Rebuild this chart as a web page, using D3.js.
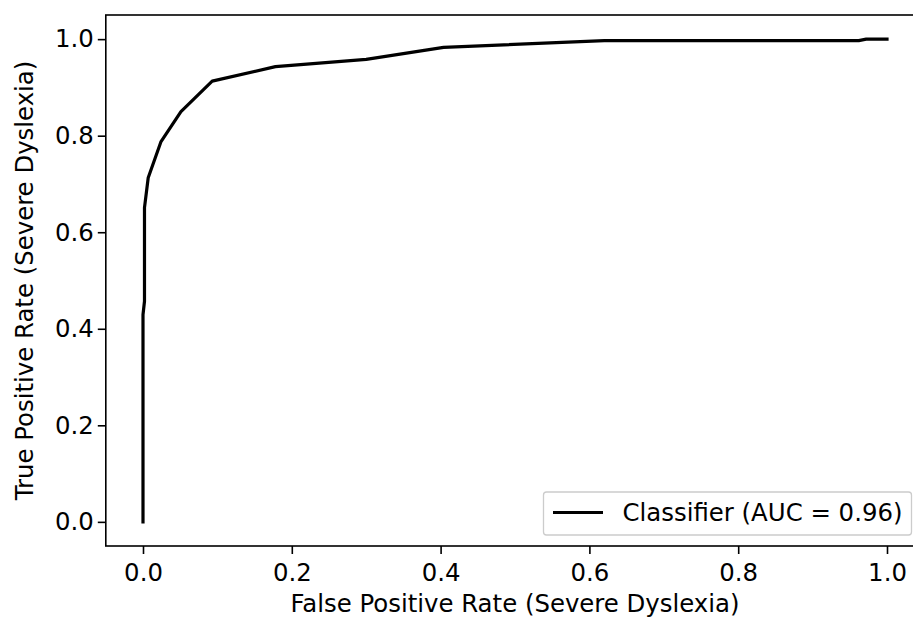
<!DOCTYPE html>
<html>
<head>
<meta charset="utf-8">
<script src="https://cdn.jsdelivr.net/npm/d3@7"></script>
<style>
  html, body { margin: 0; padding: 0; background: #fff; }
  svg { display: block; }
  text { font-family: "DejaVu Sans", sans-serif; fill: #000; }
</style>
</head>
<body>
<svg id="chart" width="913" height="618"></svg>
<script>
const fpr = [0, 0, 0.002, 0.002, 0.007, 0.024, 0.051, 0.093, 0.178, 0.30, 0.404, 0.62, 0.962, 0.972, 1.0];
const tpr = [0, 0.429, 0.457, 0.651, 0.713, 0.787, 0.850, 0.913, 0.943, 0.958, 0.983, 0.997, 0.997, 1.0, 1.0];
const xTicks = [0.0, 0.2, 0.4, 0.6, 0.8, 1.0];
const yTicks = [0.0, 0.2, 0.4, 0.6, 0.8, 1.0];
const seriesLabel = "Classifier (AUC = 0.96)";
const xLabel = "False Positive Rate (Severe Dyslexia)";
const yLabel = "True Positive Rate (Severe Dyslexia)";

const svg = d3.select("#chart");
const mLeft = 105.8, mRight = 924.2, mTop = 15, mBottom = 546;
const x = d3.scaleLinear().domain([-0.05, 1.05]).range([mLeft, mRight]);
const y = d3.scaleLinear().domain([-0.05, 1.05]).range([mBottom, mTop]);
const fontSize = 24.4;

// curve
const pts = fpr.map((f, i) => [f, tpr[i]]);
svg.append("path")
  .datum(pts)
  .attr("fill", "none")
  .attr("stroke", "#000")
  .attr("stroke-width", 3.2)
  .attr("stroke-linejoin", "round")
  .attr("stroke-linecap", "square")
  .attr("d", d3.line().x(d => x(d[0])).y(d => y(d[1])));

// axes
const xAxis = d3.axisBottom(x).tickValues(xTicks).tickFormat(d3.format(".1f")).tickSize(8).tickPadding(10);
const yAxis = d3.axisLeft(y).tickValues(yTicks).tickFormat(d3.format(".1f")).tickSize(8).tickPadding(4);

const gx = svg.append("g").attr("transform", `translate(0,${mBottom})`).call(xAxis);
const gy = svg.append("g").attr("transform", `translate(${mLeft},0)`).call(yAxis);
[gx, gy].forEach(g => {
  g.select(".domain").remove();
  g.selectAll("line").attr("stroke", "#000").attr("stroke-width", 1.6);
  g.selectAll("text").attr("font-size", fontSize).attr("font-family", "DejaVu Sans").attr("fill", "#000");
});

// spines
svg.append("rect")
  .attr("x", mLeft).attr("y", mTop)
  .attr("width", mRight - mLeft).attr("height", mBottom - mTop)
  .attr("fill", "none").attr("stroke", "#000").attr("stroke-width", 1.6);

// axis labels
svg.append("text")
  .attr("x", (mLeft + mRight) / 2).attr("y", 612)
  .attr("text-anchor", "middle").attr("font-size", fontSize)
  .text(xLabel);
svg.append("text")
  .attr("transform", `translate(33,${(mTop + mBottom) / 2}) rotate(-90)`)
  .attr("text-anchor", "middle").attr("font-size", fontSize)
  .text(yLabel);

// legend
const lg = svg.append("g");
lg.append("rect")
  .attr("x", 543.5).attr("y", 492).attr("width", 368).attr("height", 43)
  .attr("rx", 3).attr("ry", 3)
  .attr("fill", "#fff").attr("fill-opacity", 0.8)
  .attr("stroke", "#ccc").attr("stroke-width", 1.3);
lg.append("line")
  .attr("x1", 553).attr("x2", 603).attr("y1", 512.5).attr("y2", 512.5)
  .attr("stroke", "#000").attr("stroke-width", 3.2);
lg.append("text")
  .attr("x", 622.5).attr("y", 512.5).attr("dy", "0.35em")
  .attr("font-size", fontSize)
  .text(seriesLabel);
</script>
</body>
</html>
